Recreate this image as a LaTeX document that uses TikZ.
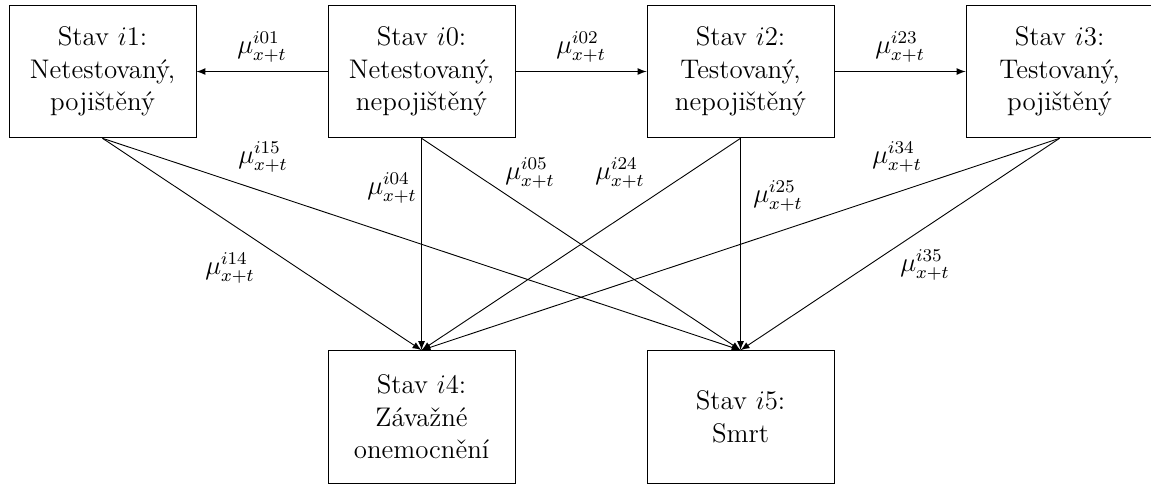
\documentclass[tikz,border=0pt,12pt]{standalone}
\usepackage{fontspec}
\usepackage{amsmath}
\tikzset{
  stav/.style={draw, align=center, minimum width=2.93cm, minimum height=2.08cm},
  prechod/.style={-latex}
}
\begin{document}
\begin{tikzpicture}
\useasboundingbox (-6.607,1.121) rectangle (11.433,-6.497);

% States
\node[stav] (s0) at (0,0) {Stav $i0$:\\ Netestovaný,\\ nepojištěný};
\node[stav] (s1) at (-5,0) {Stav $i1$:\\ Netestovaný,\\ pojištěný};
\node[stav] (s2) at (5,0) {Stav $i2$:\\ Testovaný,\\ nepojištěný};
\node[stav] (s3) at (10,0) {Stav $i3$:\\ Testovaný,\\ pojištěný};
\node[stav] (s4) at (0,-5.415) {Stav $i4$:\\ Závažné\\ onemocnění};
\node[stav] (s5) at (5,-5.415) {Stav $i5$:\\ Smrt};

% Horizontal transitions
\draw[prechod] (s0) -- (s1) node[midway, above] (m01) {$\mu^{i01}_{x+t}$};
\draw[prechod] (s0) -- (s2) node[midway, above] (m02) {$\mu^{i02}_{x+t}$};
\draw[prechod] (s2) -- (s3) node[midway, above] (m23) {$\mu^{i23}_{x+t}$};

% Transitions to i4 and i5
\draw[prechod] (s1.south) -- (s4.north);
\draw[prechod] (s1.south) -- (s5.north);
\draw[prechod] (s0.south) -- (s4.north);
\draw[prechod] (s0.south) -- (s5.north);
\draw[prechod] (s2.south) -- (s4.north);
\draw[prechod] (s2.south) -- (s5.north);
\draw[prechod] (s3.south) -- (s4.north);
\draw[prechod] (s3.south) -- (s5.north);

% Intensities
\node (m15) at (-2.485,-1.34) {$\mu^{i15}_{x+t}$};
\node (m04) at (-0.463,-1.826) {$\mu^{i04}_{x+t}$};
\node (m05) at (1.70,-1.59) {$\mu^{i05}_{x+t}$};
\node (m24) at (3.11,-1.59) {$\mu^{i24}_{x+t}$};
\node (m25) at (5.587,-1.951) {$\mu^{i25}_{x+t}$};
\node (m34) at (7.453,-1.34) {$\mu^{i34}_{x+t}$};
\node (m14) at (-3.002,-3.079) {$\mu^{i14}_{x+t}$};
\node (m35) at (7.891,-3.033) {$\mu^{i35}_{x+t}$};
\end{tikzpicture}
\end{document}
